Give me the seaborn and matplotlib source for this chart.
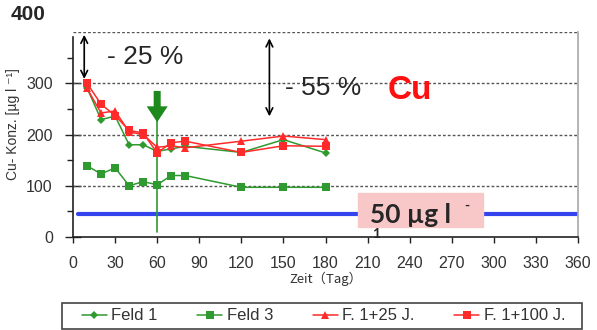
import numpy as np
import pandas as pd
import matplotlib
matplotlib.use("Agg")
import matplotlib.pyplot as plt
import seaborn as sns
from matplotlib.patches import Rectangle, Polygon

days = [10, 20, 30, 40, 50, 60, 70, 80, 120, 150, 180]
feld1 = [291, 229, 236, 180, 180, 167, 172, 177, 165, 190, 164]
feld3 = [139, 123, 135, 100, 108, 102, 120, 120, 97, 97, 97]
f1_25 = [290, 242, 246, 205, 200, 175, 178, 174, 187, 197, 190]
f1_100 = [300, 259, 237, 208, 203, 164, 184, 187, 165, 178, 177]
series_names = ["Feld 1", "Feld 3", "F. 1+25 J.", "F. 1+100 J."]
limit_value = 45
x_ticks = list(range(0, 361, 30))
y_ticks = [0, 100, 200, 300]

sns.set_theme(style="white")
plt.rcParams['font.family'] = ['Liberation Sans', 'DejaVu Sans']

df = pd.DataFrame({
    "Tag": days * 4,
    "Konz": feld1 + feld3 + f1_25 + f1_100,
    "Serie": sum([[n] * len(days) for n in series_names], []),
})

green = "#2f9a2f"
red = "#ff2a2a"
palette = {series_names[0]: green, series_names[1]: green,
           series_names[2]: red, series_names[3]: red}
markers = {series_names[0]: "D", series_names[1]: "s",
           series_names[2]: "^", series_names[3]: "s"}
msize = {series_names[0]: 4, series_names[1]: 6,
         series_names[2]: 6, series_names[3]: 6}

fig = plt.figure(figsize=(5.97, 3.30), dpi=100)
ax = fig.add_axes([0.1223, 0.2818, 0.8459, 0.6212])

# grid lines
for yv in [100, 200, 300, 400]:
    ax.axhline(yv, color="#555555", lw=1.0, ls=(0, (2, 1.5)), zorder=1)

# limit line
ax.plot([3.5, 360], [limit_value, limit_value], color="#3344ee", lw=3, zorder=2)

# vertical green line at day 60
ax.plot([60, 60], [10, 230], color=green, lw=1.2, zorder=2)
ax.add_patch(Polygon([(57.5, 285), (62.5, 285), (62.5, 255), (67.5, 255),
                      (60, 224), (52.5, 255), (57.5, 255)],
                     closed=True, color="#1e8a1e", zorder=5, lw=0))

for n in series_names:
    sub = df[df["Serie"] == n]
    sns.lineplot(data=sub, x="Tag", y="Konz", ax=ax, color=palette[n],
                 marker=markers[n], markersize=msize[n], markeredgewidth=0,
                 lw=1.1, label=n, legend=False, zorder=4)

ax.set_xlim(0, 360)
ax.set_ylim(0, 400)
ax.set_xticks(x_ticks)
ax.set_yticks(y_ticks)
ax.set_yticks([50, 150, 250, 350], minor=True)
ax.tick_params(axis="both", which="both", direction="out", length=4, width=1, color="#222222",
               labelsize=11.5, labelcolor="#333333", left=True, bottom=True)
ax.tick_params(axis="y", which="major", direction="inout", length=11, pad=9)
ax.tick_params(axis="x", which="major", pad=10)
ax.set_xlabel("Zeit（Tag）", fontsize=9.5, color="#333333",
              family=['Noto Sans CJK SC', 'DejaVu Sans'], labelpad=0)
ax.set_ylabel("Cu- Konz. [µg l ⁻¹]", fontsize=10, color="#333333", labelpad=0)
ax.yaxis.set_label_coords(-0.105, 0.55)

for s in ["left", "bottom"]:
    ax.spines[s].set_color("#222222")
    ax.spines[s].set_linewidth(1.2)
ax.spines["left"].set_bounds(0, 390)
ax.spines["right"].set_color("#aaaaaa")
ax.spines["top"].set_visible(False)

# annotations
ax.annotate("", xy=(8, 303), xytext=(8, 400),
            arrowprops=dict(arrowstyle="<->", color="black", lw=1.2))
ax.text(24, 352, "- 25 %", fontsize=19, va="center", ha="left")
ax.annotate("", xy=(140, 230), xytext=(140, 393),
            arrowprops=dict(arrowstyle="<->", color="black", lw=1.2))
ax.text(151, 290, "- 55 %", fontsize=19, va="center", ha="left")
ax.text(224, 285, "Cu", fontsize=24, fontweight="bold", color="#ff1010",
        va="center", ha="left")

ax.add_patch(Rectangle((203, 20), 89, 66, color="#f8c8c8", zorder=3))
ax.text(212, 43, "50 µg l", fontsize=19, fontweight="bold", va="center",
        ha="left", zorder=6, family=['Lato', 'DejaVu Sans'])
ax.text(279, 61, "-", fontsize=10, fontweight="bold", va="center",
        ha="left", zorder=6, family=['Lato', 'DejaVu Sans'])
ax.text(213, 5, "1", fontsize=10, fontweight="bold", va="center",
        ha="left", zorder=6, family=['Lato', 'DejaVu Sans'], clip_on=False)

fig.text(0.017, 0.955, "400", fontsize=15, fontweight="bold", va="center", ha="left")

# legend frame drawn separately, legend entries centered inside
fig.patches.append(Rectangle((62 / 597, 1 / 330), 520 / 597, 26 / 330,
                             transform=fig.transFigure, fill=False,
                             edgecolor="#444444", lw=1.2))
h, l = ax.get_legend_handles_labels()
leg = fig.legend(h, l, loc="center", bbox_to_anchor=(323.5 / 597, 14 / 330),
                 ncol=4, frameon=False, fontsize=12, handlelength=1.5,
                 columnspacing=2.4, handletextpad=0.25, labelcolor="#333333")

fig.savefig("out.png", dpi=100)
